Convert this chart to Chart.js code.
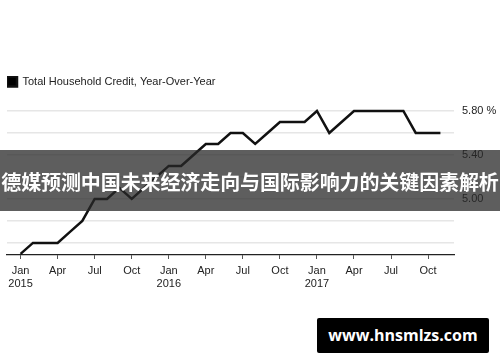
<!DOCTYPE html>
<html>
<head>
<meta charset="utf-8">
<script src="https://cdn.jsdelivr.net/npm/chart.js@4"></script>
<style>
  html, body { margin: 0; padding: 0; background: #fff; }
  #wrap { position: relative; width: 500px; height: 362px; overflow: hidden; }
  #chart { position: absolute; left: 0; top: 0; }
  #band {
    position: absolute; left: 0; top: 150px; width: 500px; height: 61px;
    background: rgba(40,40,40,0.75);
    color: #fff; font: bold 20px "Noto Sans CJK SC", sans-serif;
    line-height: 64px; white-space: nowrap; text-align: center; letter-spacing: -0.1px;
  }
  #mark {
    position: absolute; left: 317px; top: 318px; width: 172px; height: 35px;
    background: #000; border-radius: 2px;
    color: #fff; font: bold 16px "Open Sans", sans-serif;
    line-height: 35px; text-align: center;
  }
</style>
</head>
<body>
<div id="wrap">
  <canvas id="chart" width="500" height="362"></canvas>
  <div id="band">德媒预测中国未来经济走向与国际影响力的关键因素解析</div>
  <div id="mark">www.hnsmlzs.com</div>
</div>
<script>
// Total household credit, year-over-year (%), monthly from Jan 2015
const values2015 = [4.5, 4.6, 4.6, 4.6, 4.7, 4.8, 5.0, 5.0, 5.1, 5.0, 5.1, 5.2];
const values2016 = [5.3, 5.3, 5.4, 5.5, 5.5, 5.6, 5.6, 5.5, 5.6, 5.7, 5.7, 5.7];
const values2017 = [5.8, 5.6, 5.7, 5.8, 5.8, 5.8, 5.8, 5.8, 5.6, 5.6, 5.6];

// x ticks, month index counted from Jan 2015
const xTickPos = [0, 3, 6, 9, 12, 15, 18, 21, 24, 27, 30, 33];
const xTickLabels = [['Jan', '2015'], 'Apr', 'Jul', 'Oct', ['Jan', '2016'], 'Apr', 'Jul', 'Oct',
  ['Jan', '2017'], 'Apr', 'Jul', 'Oct'];

const yTickValues = [4.6, 4.8, 5.0, 5.2, 5.4, 5.6, 5.8];
const yTickLabels = ['', '', '5.00', '', '5.40', '', '5.80 %'];

const seriesLabel = 'Total Household Credit, Year-Over-Year';

const allValues = values2015.concat(values2016, values2017);
const points = allValues.map((v, i) => ({ x: i, y: v }));

const FONT = 'Liberation Sans, Arial, sans-serif';

new Chart(document.getElementById('chart').getContext('2d'), {
  type: 'line',
  data: {
    datasets: [{
      label: seriesLabel,
      data: points,
      borderColor: '#111',
      backgroundColor: '#000',
      borderWidth: 2.5,
      pointRadius: 0,
      tension: 0,
      clip: false,
    }]
  },
  options: {
    responsive: false,
    animation: false,
    layout: { padding: { top: 76, left: 7, right: 0, bottom: 0 } },
    plugins: {
      legend: {
        position: 'top',
        align: 'start',
        labels: {
          font: { family: FONT, size: 11 },
          color: '#222',
          boxWidth: 10,
          boxHeight: 10,
          padding: 0,
        }
      },
      tooltip: { enabled: false }
    },
    scales: {
      x: {
        type: 'linear',
        min: -1.1,
        max: 35.1,
        afterBuildTicks: s => { s.ticks = xTickPos.map(v => ({ value: v })); },
        afterFit: s => { s.height = 107; },
        grid: {
          drawOnChartArea: false,
          drawTicks: true,
          tickLength: 4,
          color: '#555',
        },
        border: { display: true, color: '#222', width: 1.2 },
        ticks: {
          autoSkip: false,
          maxRotation: 0,
          padding: 5,
          font: { family: FONT, size: 11 },
          color: '#222',
          callback: (v) => {
            const i = xTickPos.indexOf(v);
            return i >= 0 ? xTickLabels[i] : '';
          }
        }
      },
      y: {
        position: 'right',
        min: 4.49,
        max: 5.927,
        afterBuildTicks: s => { s.ticks = yTickValues.map(v => ({ value: v })); },
        afterFit: s => { s.width = 46; },
        grid: { color: '#e6e6e6', lineWidth: 1.5, drawTicks: false },
        border: { display: false },
        ticks: {
          padding: 8,
          font: { family: FONT, size: 11 },
          color: '#222',
          callback: (v) => {
            const i = yTickValues.findIndex(t => Math.abs(t - v) < 1e-6);
            return i >= 0 ? yTickLabels[i] : '';
          }
        }
      }
    }
  }
});
</script>
</body>
</html>
